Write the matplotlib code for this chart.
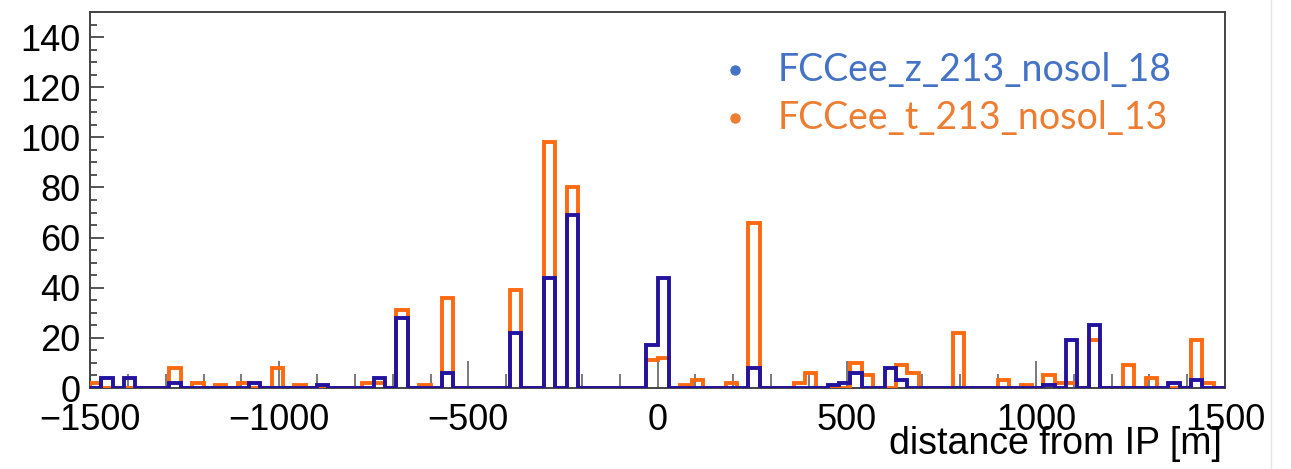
import numpy as np
import matplotlib
matplotlib.use("Agg")
import matplotlib.pyplot as plt
from matplotlib.ticker import MultipleLocator
from matplotlib.lines import Line2D

# 30 m bins from -1500 m to +1500 m
bin_edges = np.arange(-1500, 1501, 30)

# counts per bin, FCCee_t_213_nosol_13
counts_t = [
    2, 0, 0, 0, 0, 0, 0, 8, 0, 2,
    0, 1, 0, 2, 0, 0, 8, 0, 1, 0,
    0, 0, 0, 0, 2, 2, 0, 31, 0, 1,
    0, 36, 0, 0, 0, 0, 0, 39, 0, 0,
    98, 0, 80, 0, 0, 0, 0, 0, 0, 11,
    12, 0, 1, 3, 0, 0, 2, 0, 66, 0,
    0, 0, 2, 6, 0, 0, 0, 10, 5, 0,
    0, 9, 6, 0, 0, 0, 22, 0, 0, 0,
    3, 0, 1, 0, 5, 2, 2, 0, 19, 0,
    0, 9, 0, 4, 0, 0, 0, 19, 2, 0,
]

# counts per bin, FCCee_z_213_nosol_18
counts_z = [
    0, 4, 0, 4, 0, 0, 0, 2, 0, 0,
    0, 0, 0, 0, 2, 0, 0, 0, 0, 0,
    1, 0, 0, 0, 0, 4, 0, 28, 0, 0,
    0, 6, 0, 0, 0, 0, 0, 22, 0, 0,
    44, 0, 69, 0, 0, 0, 0, 0, 0, 17,
    44, 0, 0, 0, 0, 0, 0, 0, 8, 0,
    0, 0, 0, 0, 0, 1, 2, 6, 0, 0,
    8, 3, 0, 0, 0, 0, 0, 0, 0, 0,
    0, 0, 0, 0, 1, 0, 19, 0, 25, 0,
    0, 0, 0, 0, 0, 2, 0, 3, 0, 0,
]

legend_labels = ["FCCee_z_213_nosol_18", "FCCee_t_213_nosol_13"]
legend_colors = ["#4472c4", "#ed7d31"]

col_t = "#ff6a10"
col_z = "#24139e"

W, H = 1291, 469
fig = plt.figure(figsize=(W / 100, H / 100), dpi=100)
fig.patch.set_facecolor("white")
ax = fig.add_axes([90 / W, 1 - 388 / H, (1225 - 90) / W, (388 - 12) / H])

ax.stairs(counts_t, bin_edges, baseline=0, fill=False, color=col_t, lw=2.8, zorder=3)
ax.stairs(counts_z, bin_edges, baseline=0, fill=False, color=col_z, lw=2.8, zorder=4)

ax.set_xlim(-1500, 1500)
ax.set_ylim(0, 150)

font = "Liberation Sans"
ax.xaxis.set_major_locator(MultipleLocator(500))
ax.xaxis.set_minor_locator(MultipleLocator(100))
ax.yaxis.set_minor_locator(MultipleLocator(5))
ax.set_yticks(np.arange(0, 141, 20))

ax.tick_params(axis="x", which="major", direction="in", length=19.5, width=1.4,
               color="#7a7a7a", pad=11, labelsize=26)
ax.tick_params(axis="x", which="minor", direction="in", length=10, width=1.4,
               color="#7a7a7a")
ax.tick_params(axis="y", which="major", direction="in", length=10, width=1.4,
               color="#555555", pad=7, labelsize=26)
ax.tick_params(axis="y", which="minor", direction="in", length=5, width=1.4,
               color="#555555")
for lab in ax.get_xticklabels() + ax.get_yticklabels():
    lab.set_fontfamily(font)

for sp in ax.spines.values():
    sp.set_color("#444444")
    sp.set_linewidth(1.4)

# axis title, right-aligned under the frame
fig.text(1222 / W, 1 - 454 / H, "distance from IP [m]", fontsize=27,
         family=font, ha="right", va="baseline")

# bullet-style legend in the upper right
for i, (lab, c) in enumerate(zip(legend_labels, legend_colors)):
    yf = 1 - (70 + i * 48) / H
    fig.add_artist(Line2D([735 / W], [yf], marker="o", markersize=6.5,
                          color=c, linestyle="none"))
    fig.text(778 / W, yf, lab, color=c, fontsize=27, family="Lato",
             va="center", ha="left")

# thin page edge on the right
fig.add_artist(Line2D([1271 / W, 1271 / W], [0, 1], color="#e4e4e4", lw=1))

fig.savefig("out.png", dpi=100)
